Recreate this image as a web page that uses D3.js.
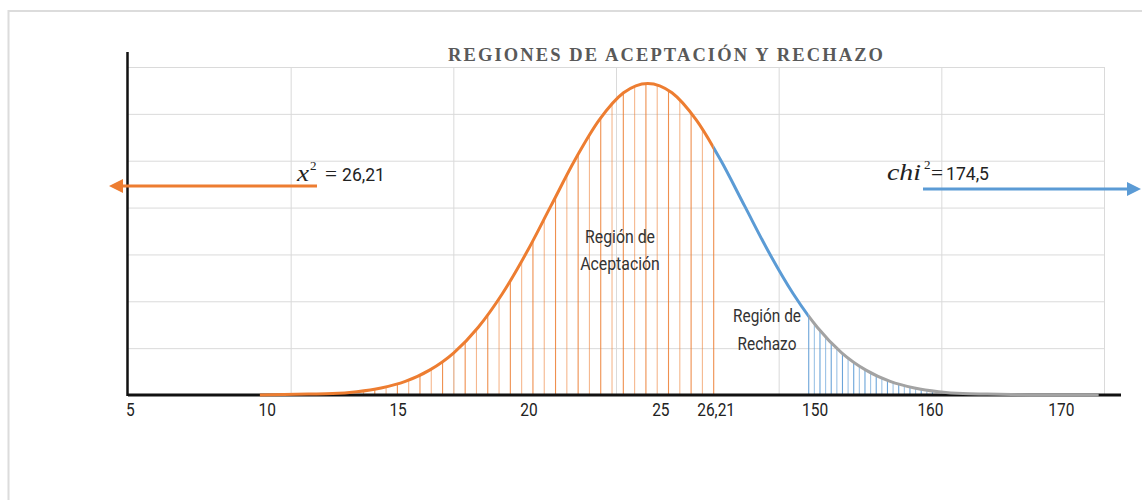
<!DOCTYPE html>
<html>
<head>
<meta charset="utf-8">
<script src="https://cdn.jsdelivr.net/npm/d3@7"></script>
<style>
  body { margin: 0; background: #fff; }
  .tick text { font-family: Roboto, "Noto Sans", sans-serif; }
</style>
</head>
<body>
<div id="chart"></div>
<script>
// Data
// curve samples (standardized position) and height in grid units
var zValues = [-4.0, -3.75, -3.5, -3.25, -3.0, -2.75, -2.5, -2.25, -2.0, -1.75, -1.5, -1.25, -1.0, -0.75, -0.5, -0.25,
  0, 0.25, 0.5, 0.75, 1.0, 1.25, 1.5, 1.75, 2.0, 2.25, 2.5, 2.75, 3.0, 3.25, 3.5, 3.75, 4.0, 4.25, 4.5, 4.65];
var heights = [0.00, 0.01, 0.02, 0.03, 0.07, 0.15, 0.29, 0.53, 0.90, 1.44, 2.16, 3.04, 4.03, 5.02, 5.87, 6.45,
  6.65, 6.45, 5.87, 5.02, 4.03, 3.04, 2.16, 1.44, 0.90, 0.53, 0.29, 0.15, 0.07, 0.03, 0.02, 0.01, 0.00, 0.00, 0.00, 0.00];

// tick labels and where they sit on the same axis
var tickLabels = ["5", "10", "15", "20", "25", "26,21", "150", "160", "170"];
var tickPos = [-5.34, -3.93, -2.58, -1.23, 0.13, 0.70, 1.72, 2.91, 4.26];

// region limits
var zCritical = 0.68;   // 26,21
var zReject = 1.66;     // start of rejection shading
var acceptHatchStart = -2.97;
var rejectHatchEnd = 2.95;

var svgWidth = 1142;
var svgHeight = 500;

var svg = d3.select("#chart")
  .append("svg")
  .attr("width", svgWidth)
  .attr("height", svgHeight);

// squeeze text a little to get the narrow Calibri look
function condense(sel, f) {
  sel.each(function() {
    var len = this.getComputedTextLength();
    d3.select(this).attr("textLength", len * f).attr("lengthAdjust", "spacingAndGlyphs");
  });
}

// outer frame
svg.append("rect")
  .attr("x", 8.5).attr("y", 11)
  .attr("width", 1140).attr("height", 500)
  .attr("fill", "#fff")
  .attr("stroke", "#dcdcdc")
  .attr("stroke-width", 2);

// scales
var x = d3.scaleLinear().domain([-5.36, 4.87]).range([128, 1120]);
var y = d3.scaleLinear().domain([0, 7]).range([395, 67]);
var gridX = d3.scaleLinear().domain([0, 6]).range([128, 1104]);

// gridlines
svg.append("g")
  .attr("transform", "translate(0,395)")
  .call(d3.axisBottom(gridX).tickValues([1, 2, 3, 4, 5, 6]).tickSize(-(395 - 67)).tickFormat(""))
  .call(g => g.select(".domain").remove())
  .call(g => g.selectAll("line").attr("stroke", "#dadada").attr("stroke-width", 1));

svg.append("g")
  .attr("transform", "translate(128,0)")
  .call(d3.axisLeft(y).tickValues([1, 2, 3, 4, 5, 6, 7]).tickSize(-(1104 - 128)).tickFormat(""))
  .call(g => g.select(".domain").remove())
  .call(g => g.selectAll("line").attr("stroke", "#dadada").attr("stroke-width", 1));

var pts = zValues.map((z, i) => [z, heights[i]]);

var line = d3.line()
  .x(d => x(d[0]))
  .y(d => y(d[1]))
  .curve(d3.curveMonotoneX);

var area = d3.area()
  .x(d => x(d[0]))
  .y0(y(0))
  .y1(d => y(d[1]))
  .curve(d3.curveMonotoneX);

var defs = svg.append("defs");
defs.append("clipPath").attr("id", "under")
  .append("path").attr("d", area(pts));

function clipRange(id, x0, x1) {
  defs.append("clipPath").attr("id", id)
    .append("rect")
    .attr("x", x0).attr("y", 0)
    .attr("width", x1 - x0).attr("height", svgHeight);
}
clipRange("segA", 0, x(zCritical));
clipRange("segB", x(zCritical), x(zReject));
clipRange("segC", x(zReject), svgWidth);

// hatch lines under the curve
var acceptHatch = d3.range(zCritical, acceptHatchStart, -0.1165);
var rejectHatch = d3.range(zReject, rejectHatchEnd, 0.058);

svg.append("g")
  .attr("clip-path", "url(#under)")
  .selectAll("line")
  .data(acceptHatch)
  .enter()
  .append("line")
  .attr("x1", d => x(d)).attr("x2", d => x(d))
  .attr("y1", y(0)).attr("y2", y(7))
  .attr("stroke", "#ED7D31")
  .attr("stroke-width", 1.1)
  .attr("opacity", (d, i) => i % 2 ? 0.55 : 0.85);

svg.append("g")
  .attr("clip-path", "url(#under)")
  .selectAll("line")
  .data(rejectHatch)
  .enter()
  .append("line")
  .attr("x1", d => x(d)).attr("x2", d => x(d))
  .attr("y1", y(0)).attr("y2", y(7))
  .attr("stroke", "#5B9BD5")
  .attr("stroke-width", 1.1)
  .attr("opacity", (d, i) => i % 2 ? 0.6 : 0.9);

// x axis line
svg.append("line")
  .attr("x1", 128).attr("x2", 1121)
  .attr("y1", 395).attr("y2", 395)
  .attr("stroke", "#111")
  .attr("stroke-width", 3);

// curve in three colours
[["segA", "#ED7D31"], ["segB", "#5B9BD5"], ["segC", "#A3A3A3"]].forEach(function(s) {
  svg.append("path")
    .attr("d", line(pts))
    .attr("clip-path", `url(#${s[0]})`)
    .attr("fill", "none")
    .attr("stroke", s[1])
    .attr("stroke-width", 3);
});

// y axis line
svg.append("line")
  .attr("x1", 127.5).attr("x2", 127.5)
  .attr("y1", 52).attr("y2", 396)
  .attr("stroke", "#111")
  .attr("stroke-width", 2.5);

// tick labels
svg.append("g")
  .attr("transform", "translate(0,395)")
  .call(d3.axisBottom(x).tickValues(tickPos).tickFormat((d, i) => tickLabels[i]).tickSize(0).tickPadding(8))
  .call(g => g.select(".domain").remove())
  .call(g => g.selectAll("text").attr("font-size", 18).attr("fill", "#222"))
  .call(g => condense(g.selectAll("text"), 0.86));

// title
svg.append("text")
  .attr("x", 448).attr("y", 61)
  .attr("textLength", 435)
  .attr("lengthAdjust", "spacing")
  .attr("font-family", "'Liberation Serif', 'DejaVu Serif', serif")
  .attr("font-weight", "bold")
  .attr("font-size", 18.5)
  .attr("fill", "#595959")
  .text("REGIONES DE ACEPTACIÓN Y RECHAZO");

// region labels
function label(cx, lines, y0, size, gap) {
  svg.append("g").selectAll("text")
    .data(lines)
    .enter()
    .append("text")
    .attr("text-anchor", "middle")
    .attr("font-family", "Roboto, 'Noto Sans', sans-serif")
    .attr("font-size", size)
    .attr("fill", "#333")
    .attr("x", cx)
    .attr("y", (d, i) => y0 + i * gap)
    .text(d => d)
    .call(s => condense(s, 0.88));
}
label(620, ["Región de", "Aceptación"], 243, 18, 27);
label(767, ["Región de", "Rechazo"], 322, 17.5, 28);

// arrows
function arrow(x1, x2, yy, color) {
  var dir = x2 > x1 ? 1 : -1;
  svg.append("line")
    .attr("x1", x1).attr("x2", x2 - dir * 10)
    .attr("y1", yy).attr("y2", yy)
    .attr("stroke", color)
    .attr("stroke-width", 3);
  svg.append("path")
    .attr("d", `M${x2},${yy} L${x2 - dir * 14},${yy - 7} L${x2 - dir * 14},${yy + 7} Z`)
    .attr("fill", color);
}
arrow(317, 109, 186, "#ED7D31");
arrow(923, 1141, 189, "#5B9BD5");

// annotations: symbol, superscript, equals sign, value
function stat(xs, yy, sym, symLen, value) {
  var g = svg.append("g").attr("fill", "#222");
  g.append("text")
    .attr("x", xs[0]).attr("y", yy)
    .attr("font-family", "'Liberation Serif', 'DejaVu Serif', serif")
    .attr("font-style", "italic")
    .attr("font-size", 23)
    .attr("textLength", symLen)
    .attr("lengthAdjust", "spacingAndGlyphs")
    .text(sym);
  g.append("text")
    .attr("x", xs[1]).attr("y", yy - 11)
    .attr("font-family", "'Liberation Serif', serif")
    .attr("font-size", 13)
    .text("2");
  g.append("text")
    .attr("x", xs[2]).attr("y", yy)
    .attr("font-family", "'Liberation Serif', serif")
    .attr("font-size", 21)
    .attr("textLength", 12)
    .attr("lengthAdjust", "spacingAndGlyphs")
    .text("=");
  g.append("text")
    .attr("x", xs[3]).attr("y", yy)
    .attr("font-family", "Roboto, 'Noto Sans', sans-serif")
    .attr("font-size", 18.5)
    .attr("textLength", 43)
    .attr("lengthAdjust", "spacingAndGlyphs")
    .text(value);
}
stat([297, 310, 325, 342], 181, "x", 12, "26,21");
stat([887, 924, 931, 946], 180, "chi", 34, "174,5");
</script>
</body>
</html>
